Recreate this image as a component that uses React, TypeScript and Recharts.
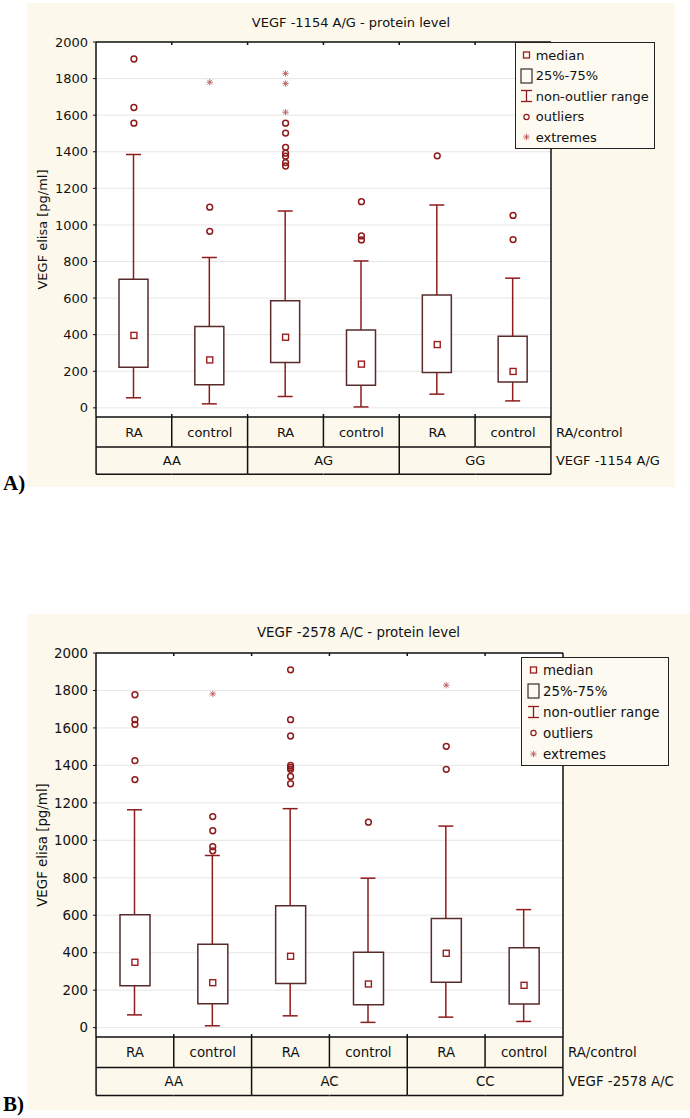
import React from "react";
import { ComposedChart, Bar, Scatter, XAxis, YAxis, CartesianGrid, ReferenceLine } from "recharts";

// shared categories
const groups = ["RA", "control"];
const yTicks = [0, 200, 400, 600, 800, 1000, 1200, 1400, 1600, 1800, 2000];
const legendLabels = ["median", "25%-75%", "non-outlier range", "outliers", "extremes"];

// A) VEGF -1154 A/G
const genotypesA = ["AA", "AG", "GG"];
const q1A = [222, 126, 248, 124, 193, 142];
const q3A = [703, 445, 585, 426, 617, 392];
const medA = [396, 262, 386, 239, 346, 199];
const loA = [55, 22, 62, 5, 75, 38];
const hiA = [1385, 822, 1076, 803, 1109, 709];
const outliersA = [
  [1907, 1642, 1556],
  [1097, 965],
  [1556, 1502, 1424, 1392, 1376, 1341, 1322],
  [1127, 940, 918],
  [1378],
  [1052, 920],
];
const extremesA = [[], [1780], [1828, 1773, 1616], [], [], []];

// B) VEGF -2578 A/C
const genotypesB = ["AA", "AC", "CC"];
const q1B = [224, 127, 236, 122, 242, 126];
const q3B = [603, 445, 651, 402, 582, 427];
const medB = [349, 240, 381, 233, 397, 226];
const loB = [68, 10, 63, 28, 56, 33];
const hiB = [1163, 919, 1169, 798, 1076, 630];
const outliersB = [
  [1777, 1644, 1619, 1425, 1324],
  [1127, 1051, 966, 944],
  [1910, 1644, 1557, 1400, 1389, 1379, 1341, 1302],
  [1097],
  [1502, 1379],
  [],
];
const extremesB = [[], [1782], [], [], [1828], []];

const C = {
  whisker: "#8e1c1c",
  box: "#5a2b2b",
  median: "#9b1f1f",
  outlier: "#8e1c1c",
  extreme: "#b65050",
  bg: "#fcf8ec",
  ink: "#111",
};

const buildRows = (genos: string[], q1: number[], q3: number[], med: number[], lo: number[], hi: number[]) =>
  genos.flatMap((g, gi) =>
    groups.map((s, si) => {
      const i = gi * 2 + si;
      return { col: `${g}|${s}`, box: [q1[i], q3[i]], whisk: [lo[i], hi[i]], med: med[i] };
    })
  );

const buildPoints = (genos: string[], pts: number[][]) =>
  genos.flatMap((g, gi) =>
    groups.flatMap((s, si) => pts[gi * 2 + si].map((v) => ({ col: `${g}|${s}`, v })))
  );

const Whisker = (p: any) => {
  const { x, y, width, height } = p;
  const cx = x + width / 2;
  return (
    <g stroke={C.whisker} strokeWidth={1.5}>
      <line x1={cx} x2={cx} y1={y} y2={y + height} />
      <line x1={x} x2={x + width} y1={y} y2={y} />
      <line x1={x} x2={x + width} y1={y + height} y2={y + height} />
    </g>
  );
};

const MedianMark = (p: any) => (
  <rect x={p.cx - 3} y={p.cy - 3} width={6} height={6} fill="#fff" stroke={C.median} strokeWidth={1.4} />
);

const OutlierMark = (p: any) => (
  <circle cx={p.cx} cy={p.cy} r={2.9} fill="none" stroke={C.outlier} strokeWidth={1.5} />
);

const Asterisk = ({ cx, cy, r }: { cx: number; cy: number; r: number }) => (
  <g stroke={C.extreme} strokeWidth={0.8}>
    <line x1={cx} x2={cx} y1={cy - r} y2={cy + r} />
    <line x1={cx - r} x2={cx + r} y1={cy} y2={cy} />
    <line x1={cx - r * 0.75} x2={cx + r * 0.75} y1={cy - r * 0.75} y2={cy + r * 0.75} />
    <line x1={cx - r * 0.75} x2={cx + r * 0.75} y1={cy + r * 0.75} y2={cy - r * 0.75} />
  </g>
);

const ExtremeMark = (p: any) => <Asterisk cx={p.cx} cy={p.cy} r={3.2} />;

const TableTick = (props: any) => {
  const { x, y, payload, cfg } = props;
  const { plotW, plotH, row1H, row2H, fs, rows, axisTitle } = cfg;
  const colW = plotW / 6;
  const rowsH = row1H + row2H;
  const i = rows.findIndex((r: any) => r.col === payload.value);
  const [geno, sub] = String(payload.value).split("|");
  const left = x - colW / 2;
  const right = x + colW / 2;
  const line = { stroke: C.ink, strokeWidth: 1.5 };
  return (
    <g>
      <text x={x} y={y + row1H / 2 + fs * 0.36} textAnchor="middle" fontSize={fs} fill={C.ink}>
        {sub}
      </text>
      {i % 2 === 1 && (
        <text x={left} y={y + row1H + row2H / 2 + fs * 0.36} textAnchor="middle" fontSize={fs} fill={C.ink}>
          {geno}
        </text>
      )}
      <line x1={left} x2={right} y1={y + row1H} y2={y + row1H} {...line} />
      <line x1={left} x2={right} y1={y + rowsH} y2={y + rowsH} {...line} />
      {i === 0 && <line x1={left} x2={left} y1={y} y2={y + rowsH} {...line} />}
      {i < 5 && <line x1={right} x2={right} y1={y - 3} y2={y + (i % 2 === 1 ? rowsH : row1H)} {...line} />}
      {i < 5 && <line x1={right} x2={right} y1={y - plotH} y2={y - plotH + 3} {...line} />}
      {i === 5 && (
        <g>
          <line x1={right} x2={right} y1={y} y2={y + rowsH} {...line} />
          <text x={right + 5} y={y + row1H / 2 + fs * 0.36} fontSize={fs} fill={C.ink}>
            RA/control
          </text>
          <text x={right + 5} y={y + row1H + row2H / 2 + fs * 0.36} fontSize={fs} fill={C.ink}>
            {axisTitle}
          </text>
        </g>
      )}
    </g>
  );
};

const LegendIcon = ({ i, mx }: { i: number; mx: number }) => {
  if (i === 0) return <rect x={mx - 3} y={7} width={6} height={6} fill="none" stroke={C.median} strokeWidth={1.3} />;
  if (i === 1) return <rect x={mx - 5.5} y={3} width={11} height={14} fill="none" stroke="#3a2a2a" strokeWidth={1.2} />;
  if (i === 2)
    return (
      <g stroke={C.whisker} strokeWidth={1.3}>
        <line x1={mx} x2={mx} y1={4.5} y2={15.5} />
        <line x1={mx - 5.5} x2={mx + 5.5} y1={4.5} y2={4.5} />
        <line x1={mx - 5.5} x2={mx + 5.5} y1={15.5} y2={15.5} />
      </g>
    );
  if (i === 3) return <circle cx={mx} cy={10} r={2.6} fill="none" stroke={C.outlier} strokeWidth={1.2} />;
  return <Asterisk cx={mx} cy={10} r={3.2} />;
};

function Panel({ cfg }: { cfg: any }) {
  const { plotLeft, plotTop, plotW, plotH, row1H, row2H, fs, bg, title, titleY, letter, letterY, rows, outliers, extremes, lg, boxW } = cfg;
  const rowsH = row1H + row2H;
  const chartTop = plotTop - 10;
  const chartH = 10 + plotH + rowsH + 10;
  const plotRight = plotLeft + plotW;
  const lh = fs * 1.2;
  return (
    <>
      <div style={{ position: "absolute", left: bg.left, top: bg.top, width: bg.w, height: bg.h, background: C.bg }} />
      <div
        style={{
          position: "absolute",
          left: bg.left,
          width: bg.w,
          top: titleY - lh / 2,
          textAlign: "center",
          fontSize: fs,
          lineHeight: `${lh}px`,
          color: C.ink,
        }}
      >
        {title}
      </div>
      <div style={{ position: "absolute", left: 0, top: chartTop }}>
        <ComposedChart
          width={690}
          height={chartH}
          data={rows}
          margin={{ top: 10, left: 0, right: 690 - plotRight - 1, bottom: 10 }}
        >
          <CartesianGrid xAxisId="main" vertical={false} stroke="#e6e6e6" fill="#ffffff" />
          <XAxis
            xAxisId="main"
            dataKey="col"
            type="category"
            allowDuplicatedCategory={false}
            interval={0}
            height={rowsH}
            tickLine={false}
            tickSize={0}
            tickMargin={0}
            axisLine={{ stroke: C.ink, strokeWidth: 1.5 }}
            tick={(p: any) => <TableTick {...p} cfg={cfg} />}
          />
          <XAxis xAxisId="w" dataKey="col" type="category" allowDuplicatedCategory={false} hide />
          <YAxis
            domain={[-50, 2000]}
            ticks={yTicks}
            allowDataOverflow
            width={plotLeft}
            tickSize={3}
            tickMargin={5}
            tickLine={{ stroke: C.ink }}
            axisLine={{ stroke: C.ink, strokeWidth: 1.5 }}
            tick={{ fontSize: fs, fill: C.ink }}
            label={{ value: "VEGF elisa [pg/ml]", angle: -90, position: "center", dx: -6, style: { fontSize: fs, fill: C.ink } }}
          />
          <YAxis
            yAxisId="r"
            orientation="right"
            domain={[-50, 2000]}
            ticks={yTicks}
            allowDataOverflow
            width={1}
            mirror
            tick={false}
            tickSize={3}
            tickLine={{ stroke: C.ink }}
            axisLine={{ stroke: C.ink, strokeWidth: 1.5 }}
          />
          <ReferenceLine xAxisId="main" y={2000} stroke={C.ink} strokeWidth={1.5} />
          <Bar xAxisId="w" dataKey="whisk" barSize={15} shape={Whisker} isAnimationActive={false} />
          <Bar xAxisId="main" dataKey="box" barSize={boxW} fill="#fff" stroke={C.box} strokeWidth={1.5} isAnimationActive={false} />
          <Scatter xAxisId="main" dataKey="med" shape={MedianMark} isAnimationActive={false} />
          <Scatter xAxisId="main" data={outliers} dataKey="v" shape={OutlierMark} isAnimationActive={false} />
          <Scatter xAxisId="main" data={extremes} dataKey="v" shape={ExtremeMark} isAnimationActive={false} />
        </ComposedChart>
      </div>
      <div
        style={{
          position: "absolute",
          left: lg.left,
          top: lg.top,
          width: lg.w,
          height: lg.h,
          border: "1.5px solid #222",
          boxSizing: "border-box",
          background: "#fdfaf1",
        }}
      >
        {legendLabels.map((t, i) => (
          <div
            key={t}
            style={{
              position: "absolute",
              left: 0,
              top: lg.first + i * lg.step - 11.5,
              height: 20,
              display: "flex",
              alignItems: "center",
              fontSize: fs,
              color: C.ink,
              whiteSpace: "nowrap",
            }}
          >
            <svg width={lg.textX} height={20}>
              <LegendIcon i={i} mx={lg.mx} />
            </svg>
            <span>{t}</span>
          </div>
        ))}
      </div>
      <svg style={{ position: "absolute", left: 0, top: letterY - 20 }} width={40} height={26}>
        <text x={3} y={20} fontFamily="'Liberation Serif', serif" fontWeight="bold" fontSize={21} fill="#000">
          {letter}
        </text>
      </svg>
    </>
  );
}

const panelA = {
  plotLeft: 96,
  plotTop: 41.7,
  plotW: 454,
  plotH: 375,
  row1H: 30,
  row2H: 27.3,
  fs: 13,
  boxW: 29,
  bg: { left: 27, top: 3, w: 648, h: 484 },
  title: "VEGF -1154 A/G - protein level",
  titleY: 22.3,
  letter: "A)",
  letterY: 490,
  axisTitle: "VEGF -1154 A/G",
  rows: buildRows(genotypesA, q1A, q3A, medA, loA, hiA),
  outliers: buildPoints(genotypesA, outliersA),
  extremes: buildPoints(genotypesA, extremesA),
  lg: { left: 514.7, top: 42.3, w: 140.6, h: 106.7, first: 13.7, step: 20.4, mx: 10.5, textX: 20 },
};

const panelB = {
  plotLeft: 96,
  plotTop: 652.7,
  plotW: 466,
  plotH: 384,
  row1H: 30.6,
  row2H: 28,
  fs: 13.4,
  boxW: 30,
  bg: { left: 27, top: 614, w: 663, h: 495.5 },
  title: "VEGF -2578 A/C - protein level",
  titleY: 633,
  letter: "B)",
  letterY: 1110.5,
  axisTitle: "VEGF -2578 A/C",
  rows: buildRows(genotypesB, q1B, q3B, medB, loB, hiB),
  outliers: buildPoints(genotypesB, outliersB),
  extremes: buildPoints(genotypesB, extremesB),
  lg: { left: 521, top: 657.3, w: 147.7, h: 108.7, first: 13.7, step: 21, mx: 11.5, textX: 21 },
};

export default function App() {
  return (
    <div
      style={{
        position: "absolute",
        left: 0,
        top: 0,
        width: 690,
        height: 1118,
        background: "#fff",
        fontFamily: "'DejaVu Sans', sans-serif",
        overflow: "hidden",
      }}
    >
      <Panel cfg={panelA} />
      <Panel cfg={panelB} />
    </div>
  );
}
